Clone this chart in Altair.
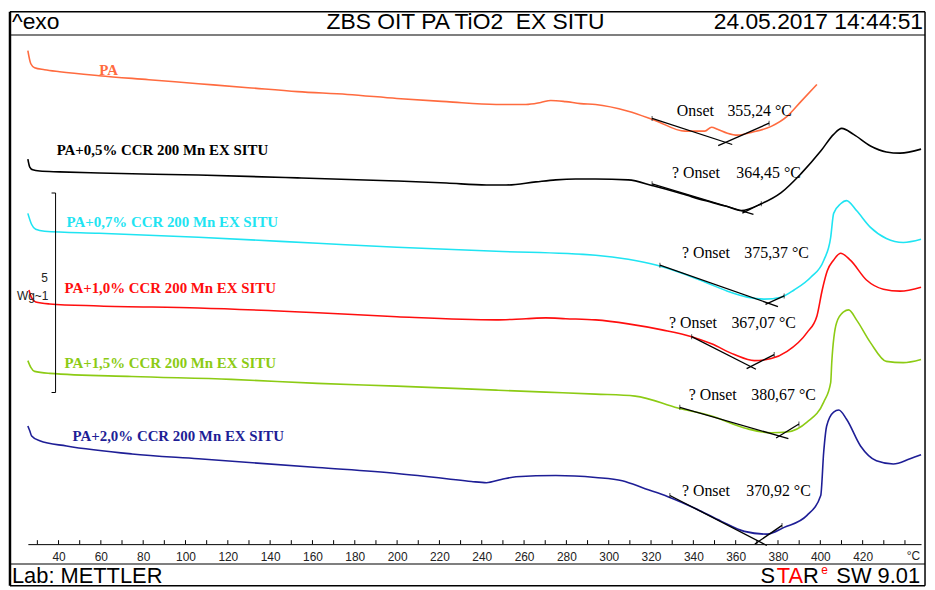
import altair as alt
import pandas as pd

# ---------------- data (temperature in °C, heat flow in W/g with stacking offset) ----------------
series = [
    "PA",
    "PA+0,5% CCR 200 Mn EX SITU",
    "PA+0,7% CCR 200 Mn EX SITU",
    "PA+1,0% CCR 200 Mn EX SITU",
    "PA+1,5% CCR 200 Mn EX SITU",
    "PA+2,0% CCR 200 Mn EX SITU",
]
colors = ["#FF6B3F", "#000000", "#1FE4F2", "#FF0E0E", "#8CCB14", "#1E1E96"]

t_pa = [25.5, 26.9, 28.7, 33.4, 40.5, 59.2, 82.7, 106.1, 129.6, 153.0, 176.5, 199.9, 223.4, 246.8,
        260.9, 267.9, 272.6, 279.7, 286.7, 293.8, 309.2, 321.9, 336.0, 345.4, 348.6, 351.4, 356.1,
        360.8, 367.4, 376.8, 384.3, 390.8, 398.4]
v_pa = [12.37, 12.04, 11.94, 11.89, 11.84, 11.74, 11.64, 11.54, 11.44, 11.34, 11.27, 11.17, 11.09, 11.02,
        11.02, 11.07, 11.12, 11.09, 11.04, 11.02, 10.85, 10.62, 10.35, 10.35, 10.45, 10.40, 10.30,
        10.25, 10.32, 10.47, 10.72, 11.09, 11.52]

t_05 = [25.5, 26.4, 27.8, 31.1, 40.5, 59.2, 106.1, 153.0, 199.9, 223.4, 242.2, 251.5, 265.6, 275.0,
        284.4, 293.8, 309.2, 321.0, 334.6, 345.4, 356.1, 362.7, 372.1, 381.5, 390.8, 400.2, 406.3,
        410.1, 415.7, 423.7, 431.2, 437.7, 447.6]
v_05 = [9.65, 9.45, 9.38, 9.35, 9.33, 9.30, 9.25, 9.18, 9.10, 9.05, 9.00, 9.00, 9.08, 9.13,
        9.15, 9.15, 9.13, 8.98, 8.78, 8.61, 8.46, 8.36, 8.53, 8.81, 9.28, 9.85, 10.27,
        10.42, 10.27, 9.98, 9.83, 9.80, 9.90]

t_07 = [25.5, 27.3, 29.2, 33.4, 59.2, 106.1, 162.4, 199.9, 246.8, 293.8, 309.2, 322.8, 334.6, 345.4,
        356.1, 365.5, 373.5, 381.5, 387.6, 395.5, 401.6, 404.9, 406.3, 409.6, 412.4, 417.1, 423.7,
        431.2, 439.2, 447.6]
v_07 = [8.29, 8.01, 7.89, 7.84, 7.79, 7.69, 7.54, 7.44, 7.34, 7.24, 7.14, 6.99, 6.79, 6.57,
        6.34, 6.19, 6.14, 6.19, 6.37, 6.69, 7.11, 7.69, 8.29, 8.53, 8.61, 8.36, 7.94,
        7.66, 7.56, 7.64]

t_10 = [26.0, 27.3, 29.2, 35.8, 59.2, 106.1, 162.4, 199.9, 246.8, 260.9, 270.3, 279.7, 293.8, 309.2,
        325.2, 339.2, 348.6, 359.4, 368.8, 376.8, 384.3, 393.7, 398.4, 400.9, 403.3, 406.3, 409.6,
        414.3, 421.8, 429.8, 437.7, 447.6]
v_10 = [6.37, 6.17, 6.07, 6.02, 5.97, 5.92, 5.80, 5.70, 5.62, 5.65, 5.67, 5.65, 5.62, 5.52,
        5.37, 5.20, 5.02, 4.75, 4.60, 4.65, 4.83, 5.30, 5.72, 6.37, 6.85, 7.12, 7.29,
        7.11, 6.62, 6.39, 6.34, 6.44]

t_15 = [25.5, 26.9, 28.7, 35.8, 74.7, 121.6, 162.4, 199.9, 246.8, 270.3, 293.8, 312.5, 332.7, 348.6,
        365.5, 376.8, 384.3, 393.7, 401.6, 404.9, 405.4, 407.7, 411.0, 413.4, 417.1, 423.7, 431.2,
        439.2, 447.6]
v_15 = [4.60, 4.43, 4.33, 4.28, 4.20, 4.13, 4.03, 3.96, 3.86, 3.81, 3.76, 3.71, 3.41, 3.21,
        2.89, 2.79, 2.81, 3.06, 3.56, 4.05, 4.55, 5.55, 5.82, 5.87, 5.62, 5.05, 4.58,
        4.55, 4.63]

t_20 = [25.5, 26.4, 27.3, 31.1, 43.8, 74.7, 106.1, 162.4, 199.9, 223.4, 235.1, 242.2, 249.2, 256.2,
        275.0, 293.8, 306.4, 317.2, 328.0, 340.7, 353.3, 364.1, 374.9, 382.9, 393.7, 400.2, 401.6,
        403.0, 406.3, 408.7, 412.4, 419.0, 426.5, 434.5, 442.4, 447.6]
v_20 = [2.96, 2.84, 2.71, 2.59, 2.46, 2.26, 2.14, 1.92, 1.77, 1.64, 1.57, 1.54, 1.62, 1.69,
        1.72, 1.67, 1.59, 1.39, 1.19, 0.90, 0.57, 0.32, 0.25, 0.42, 0.72, 1.22, 2.31,
        2.96, 3.31, 3.36, 3.13, 2.46, 2.09, 2.01, 2.14, 2.24]

curve_t = [t_pa, t_05, t_07, t_10, t_15, t_20]
curve_v = [v_pa, v_05, v_07, v_10, v_15, v_20]

# curve labels (left anchor)
label_text = ["PA"] + series[1:]
label_t = [59.2, 39.1, 43.8, 42.8, 42.8, 46.6]
label_v = [11.89, 9.88, 8.08, 6.42, 4.55, 2.71]

# onset evaluation: left tangent point, intersection (onset), right tangent point
onset_left_t = [320.5, 320.5, 324.2, 339.2, 333.6, 328.9]
onset_left_v = [10.67, 9.03, 6.99, 5.20, 3.43, 1.22]
onset_t = [355.24, 364.45, 375.37, 367.07, 380.67, 370.92]
onset_v = [10.07, 8.33, 6.04, 4.45, 2.71, 0.07]
onset_right_t = [375.8, 372.1, 382.9, 378.2, 389.9, 381.9]
onset_right_v = [10.55, 8.53, 6.22, 4.75, 3.01, 0.47]

onset_prefix = ["Onset", "? Onset", "? Onset", "? Onset", "? Onset", "? Onset"]
onset_value_text = ["355,24 °C", "364,45 °C", "375,37 °C", "367,07 °C", "380,67 °C", "370,92 °C"]
onset_prefix_t = [332.2, 329.9, 334.6, 328.5, 337.8, 334.6]
onset_value_t = [356.1, 360.3, 364.1, 358.0, 367.4, 365.0]
onset_text_v = [10.85, 9.30, 7.29, 5.55, 3.73, 1.32]

x_labels = [40, 60, 80, 100, 120, 140, 160, 180, 200, 220, 240, 260, 280, 300, 320, 340, 360, 380, 400, 420]
x_ticks = list(range(30, 450, 10))

scale_bar_t = 38.6
scale_bar_low = 3.8
scale_bar_high = 8.8   # 5 W/g

# ---------------- tables ----------------
rows = []
for name, ts, vs in zip(series, curve_t, curve_v):
    for i, (t, v) in enumerate(zip(ts, vs)):
        rows.append({"series": name, "T": t, "v": v, "i": i})
curves_df = pd.DataFrame(rows)

labels_df = pd.DataFrame({"series": series, "text": label_text, "T": label_t, "v": label_v})

seg_rows = []
for k in range(len(series)):
    lt, lv = onset_left_t[k], onset_left_v[k]
    xt, xv = onset_t[k], onset_v[k]
    rt, rv = onset_right_t[k], onset_right_v[k]
    e1, e2 = 0.09, 0.17
    seg_rows += [
        {"seg": f"{k}a", "T": lt, "v": lv, "i": 0},
        {"seg": f"{k}a", "T": xt + (xt - lt) * e1, "v": xv + (xv - lv) * e1, "i": 1},
        {"seg": f"{k}b", "T": xt + (xt - rt) * e2, "v": xv + (xv - rv) * e2, "i": 0},
        {"seg": f"{k}b", "T": rt, "v": rv, "i": 1},
    ]
seg_df = pd.DataFrame(seg_rows)

endpts_df = pd.DataFrame({"T": onset_left_t + onset_right_t, "v": onset_left_v + onset_right_v})

onset_txt_df = pd.DataFrame({
    "prefix": onset_prefix, "value": onset_value_text,
    "Tp": onset_prefix_t, "Tv": onset_value_t, "v": onset_text_v,
})
ticks_df = pd.DataFrame({"T": x_ticks})
one = pd.DataFrame({"k": [0]})

# ---------------- scales ----------------
xs = alt.Scale(domain=[25.5, 447.6], nice=False, zero=False)
ys = alt.Scale(domain=[0, 12.76], nice=False, zero=False)
cs = alt.Scale(domain=series, range=colors)

SANS = "Liberation Sans"
SERIF = "Liberation Serif"

x_axis = alt.Axis(values=x_labels, ticks=False, domain=True, domainColor="black", domainWidth=1,
                  labelFont=SANS, labelFontSize=12, labelColor="#222222", labelPadding=7,
                  grid=False, title=None, labelFlush=False, labelOverlap=False)

curves = alt.Chart(curves_df).mark_line(strokeWidth=1.6, interpolate="monotone").encode(
    x=alt.X("T:Q", scale=xs, axis=x_axis),
    y=alt.Y("v:Q", scale=ys, axis=None),
    color=alt.Color("series:N", scale=cs, legend=None),
    order="i:Q",
)

tangents = alt.Chart(seg_df).mark_line(strokeWidth=1.3, color="black").encode(
    x=alt.X("T:Q", scale=xs), y=alt.Y("v:Q", scale=ys), detail="seg:N", order="i:Q")

endmarks = alt.Chart(endpts_df).mark_tick(color="black", thickness=1, size=5, orient="vertical").encode(
    x=alt.X("T:Q", scale=xs), y=alt.Y("v:Q", scale=ys))

labels = alt.Chart(labels_df).mark_text(align="left", baseline="middle", font=SERIF,
                                        fontWeight="bold", fontSize=15).encode(
    x=alt.X("T:Q", scale=xs), y=alt.Y("v:Q", scale=ys), text="text:N",
    color=alt.Color("series:N", scale=cs, legend=None))

onset_pre = alt.Chart(onset_txt_df).mark_text(align="left", baseline="middle", font=SERIF,
                                              fontSize=16, color="black").encode(
    x=alt.X("Tp:Q", scale=xs), y=alt.Y("v:Q", scale=ys), text="prefix:N")
onset_val = alt.Chart(onset_txt_df).mark_text(align="left", baseline="middle", font=SERIF,
                                              fontSize=16, color="black").encode(
    x=alt.X("Tv:Q", scale=xs), y=alt.Y("v:Q", scale=ys), text="value:N")

ticks = alt.Chart(ticks_df).mark_rule(color="black", strokeWidth=1).encode(
    x=alt.X("T:Q", scale=xs), y=alt.value(513), y2=alt.value(509))

bar_v = alt.Chart(one).mark_rule(color="black", strokeWidth=1).encode(
    x=alt.datum(scale_bar_t), y=alt.datum(scale_bar_low), y2=alt.datum(scale_bar_high))
bar_top = alt.Chart(one).mark_rule(color="black", strokeWidth=1).encode(
    x=alt.datum(scale_bar_t - 1.9), x2=alt.datum(scale_bar_t), y=alt.datum(scale_bar_high))
bar_bot = alt.Chart(one).mark_rule(color="black", strokeWidth=1).encode(
    x=alt.datum(scale_bar_t - 1.9), x2=alt.datum(scale_bar_t), y=alt.datum(scale_bar_low))
bar_5 = alt.Chart(one).mark_text(text="5", font=SANS, fontSize=12, align="center",
                                 baseline="middle", color="#222").encode(
    x=alt.datum(33.4), y=alt.datum(6.66))
bar_unit = alt.Chart(one).mark_text(text="Wg~1", font=SANS, fontSize=12, align="right",
                                    baseline="middle", color="#222").encode(
    x=alt.datum(35.2), y=alt.datum(6.22))


def rule(x1, x2, y1, y2, w=1.0):
    return alt.Chart(one).mark_rule(color="black", strokeWidth=w).encode(
        x=alt.value(x1), x2=alt.value(x2), y=alt.value(y1), y2=alt.value(y2))


def txt(s, x, y, size=23, align="left", color="black", baseline="alphabetic", font=SANS):
    return alt.Chart(one).mark_text(text=s, font=font, fontSize=size, align=align,
                                    baseline=baseline, color=color).encode(
        x=alt.value(x), y=alt.value(y))


frame = [
    rule(-18, 904, -23.5, -23.5, 1.5),
    rule(-18, -18, -23.5, 555, 2.5),
    rule(904, 904, -23.5, 555, 1.5),
    rule(-18, 904, 555, 555, 1.5),
    rule(-18, 904, 0, 0, 1.2),
    rule(-18, 904, 533, 533, 1.2),
]
texts = [
    txt("^exo", -16, -6),
    txt("ZBS OIT PA TiO2 \u00a0EX SITU", 441, -6, align="center"),
    txt("24.05.2017 14:44:51", 902, -6, align="right"),
    txt("Lab: METTLER", -16, 552, size=22),
    txt("SW 9.01", 899, 552, size=22, align="right"),
    txt("e", 806, 543, size=12, align="right", color="#FF0000"),
    txt("R", 797, 552, size=22, align="right"),
    txt("TA", 781, 552, size=22, align="right", color="#FF0000"),
    txt("S", 753, 552, size=22, align="right"),
    txt("°C", 899, 520, size=12, align="right", baseline="top", color="#222222"),
]

chart = alt.layer(
    curves, tangents, endmarks, labels, onset_pre, onset_val, ticks,
    bar_v, bar_top, bar_bot, bar_5, bar_unit, *frame, *texts
).properties(
    width=900, height=513,
    padding={"left": 20, "top": 25, "right": 6, "bottom": 43},
    autosize="none", background="white",
).configure_view(stroke=None)

chart.save("out.html", embed_options={"renderer": "svg", "actions": False})
